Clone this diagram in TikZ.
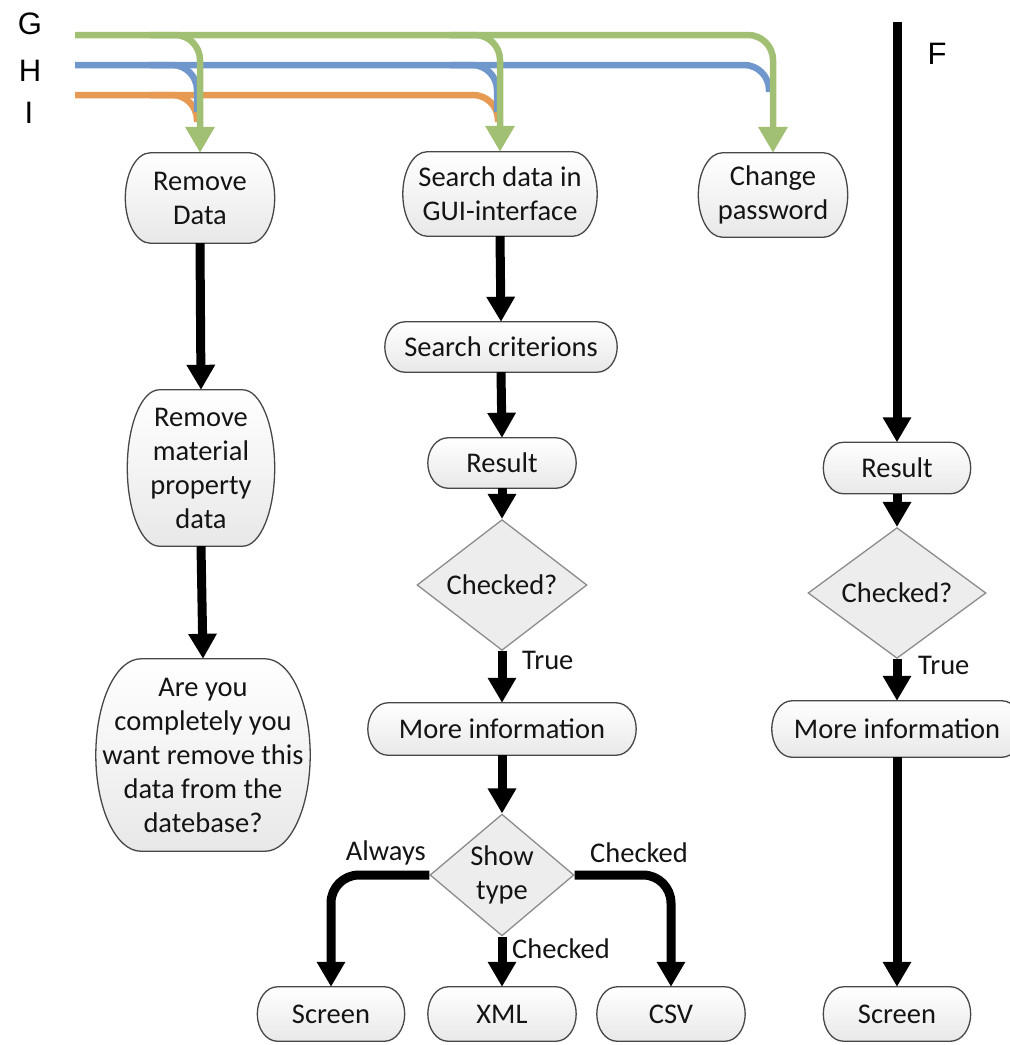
\documentclass[tikz,border=0pt]{standalone}
\usepackage{fontspec}
\setmainfont{Carlito}
\newfontfamily\letterfont{Liberation Sans}
\usetikzlibrary{arrows.meta,shapes.geometric,calc}

\pgfdeclarelayer{bg}
\pgfsetlayers{bg,main}

\definecolor{lgreen}{HTML}{A2C073}
\definecolor{lblue}{HTML}{7097CB}
\definecolor{lorange}{HTML}{E79A52}
\definecolor{txt}{HTML}{141414}

\tikzset{
  box/.style={shape=rectangle, draw=none, inner sep=0pt, align=center,
    text=txt, font=\fontsize{28.5}{34}\selectfont},
  capsuleline/.style={draw=black!72, line width=1.3pt, top color=white, bottom color=black!9},
  decision/.style={shape=diamond, draw=black!45, line width=1.3pt, fill=black!7,
    inner sep=0pt, align=center, text=txt, font=\fontsize{28.5}{34}\selectfont},
  flow/.style={line width=9pt, black, -{Triangle[width=27pt,length=25pt]}},
  greenline/.style={line width=6.5pt, lgreen, rounded corners=25pt},
  greenarrow/.style={greenline, -{Triangle[width=28pt,length=26pt]}},
  blueline/.style={line width=6.5pt, lblue, rounded corners=25pt},
  orangeline/.style={line width=6.5pt, lorange, rounded corners=25pt},
  edgelabel/.style={inner sep=0pt, text=txt, font=\fontsize{28.5}{34}\selectfont},
  letter/.style={inner sep=0pt, font=\letterfont\fontsize{31}{35}\selectfont}
}

% outline of a terminator box: flat top and bottom, half-elliptic ends
\newcommand\capsule[2]{%
  \begin{pgfonlayer}{bg}
  \path[capsuleline] let \p1=(#1.north west), \p2=(#1.south east),
      \n1={(\y1-\y2)/2} in
    (\x1+#2pt,\y1) -- (\x2-#2pt,\y1)
    arc[start angle=90, end angle=-90, x radius=#2pt, y radius=\n1]
    -- (\x1+#2pt,\y2)
    arc[start angle=270, end angle=90, x radius=#2pt, y radius=\n1] -- cycle;
  \end{pgfonlayer}}

\begin{document}
\begin{tikzpicture}[x=1pt, y=-1pt]
\useasboundingbox (0,0) rectangle (1010,1045);

% ---- terminator boxes
\node[box, minimum width=149pt, minimum height=90pt] (rd) at (200,198) {Remove\\Data};
\node[box, minimum width=147pt, minimum height=156pt] (rm) at (201,468) {Remove\\material\\property\\data};
\node[box, minimum width=214pt, minimum height=192pt] (ay) at (203,755) {Are you\\completely you\\want remove this\\data from the\\datebase?};
\node[box, minimum width=194pt, minimum height=84pt] (sd) at (500,194) {Search data in\\GUI-interface};
\node[box, minimum width=149pt, minimum height=84pt] (cp) at (773,195) {Change\\password};
\node[box, minimum width=232pt, minimum height=50pt] (sc) at (501,347) {Search criterions};
\node[box, minimum width=148pt, minimum height=50pt] (r1) at (502,463) {Result};
\node[box, minimum width=268pt, minimum height=52pt] (m1) at (502,729) {More information};
\node[box, minimum width=147pt, minimum height=54pt] (s1) at (331,1014) {Screen};
\node[box, minimum width=148pt, minimum height=54pt] (x1) at (502,1014) {XML};
\node[box, minimum width=148pt, minimum height=54pt] (v1) at (671,1014) {CSV};
\node[box, minimum width=147pt, minimum height=51pt] (r2) at (897,468) {Result};
\node[box, minimum width=250pt, minimum height=56pt] (m2) at (897,729) {More information};
\node[box, minimum width=147pt, minimum height=54pt] (s2) at (897,1014) {Screen};

\capsule{rd}{25}
\capsule{rm}{32}
\capsule{ay}{45}
\capsule{sd}{24}
\capsule{cp}{24}
\capsule{sc}{20}
\capsule{r1}{20}
\capsule{m1}{20}
\capsule{s1}{20}
\capsule{x1}{20}
\capsule{v1}{20}
\capsule{r2}{20}
\capsule{m2}{20}
\capsule{s2}{20}

% ---- decisions
\node[decision, minimum width=170pt, minimum height=100pt] (c1) at (502,585) {Checked?};
\node[decision, minimum width=144pt, minimum height=106pt] (st) at (502,875) {Show\\type};
\node[decision, minimum width=178pt, minimum height=104pt] (c2) at (897,593) {Checked?};

% ---- incoming lines G, H, I
\coordinate (iS) at (75,95);
\coordinate (iA) at (150,95);
\coordinate (iEndA) at (197,122);
\coordinate (iEndB) at (498,122);
\coordinate (hS) at (75,65);
\coordinate (hA) at (150,65);
\coordinate (hB) at (450,65);
\coordinate (hEndA) at (197,112);
\coordinate (hEndB) at (497,112);
\coordinate (hEndC) at (769,92);
\coordinate (gS) at (75,35);
\coordinate (gA) at (150,35);
\coordinate (gB) at (450,35);

\draw[orangeline] (iS) -| (iEndB);
\draw[orangeline] (iA) -| (iEndA);
\draw[blueline] (hS) -| (hEndC);
\draw[blueline] (hA) -| (hEndA);
\draw[blueline] (hB) -| (hEndB);
\draw[greenarrow] (gS) -| (cp.north);
\draw[greenarrow] (gA) -| (rd.north);
\draw[greenarrow] (gB) -| (sd.north);

\node[letter] (lg) at (30,24) {G};
\node[letter] (lh) at (30,71) {H};
\node[letter] (li) at (29,113) {I};
\node[letter] (lf) at (937,54) {F};

% ---- flow connectors
\draw[flow] (rd.south) -- (rm.north);
\draw[flow] (rm.south) -- (ay.north);
\draw[flow] (sd.south) -- (sc.north);
\draw[flow] (sc.south) -- (r1.north);
\draw[flow] (r1.south) -- (c1.north);
\draw[flow] (c1.south) -- (m1.north);
\draw[flow] (m1.south) -- (st.north);
\draw[flow, rounded corners=28pt] (st.west) -| (s1.north);
\draw[flow, rounded corners=28pt] (st.east) -| (v1.north);
\draw[flow] (st.south) -- (x1.north);

\coordinate (fTop) at (897,22);
\draw[flow] (fTop) -- (r2.north);
\draw[flow] (r2.south) -- (c2.north);
\draw[flow] (c2.south) -- (m2.north);
\draw[flow] (m2.south) -- (s2.north);

% ---- connector labels
\node[edgelabel, anchor=west] (t1) at (522,660) {True};
\node[edgelabel, anchor=west] (t2) at (918,665) {True};
\node[edgelabel, anchor=east] (al) at (426,853) {Always};
\node[edgelabel, anchor=west] (ck1) at (590,853) {Checked};
\node[edgelabel, anchor=west] (ck2) at (512,949) {Checked};
\end{tikzpicture}
\end{document}
